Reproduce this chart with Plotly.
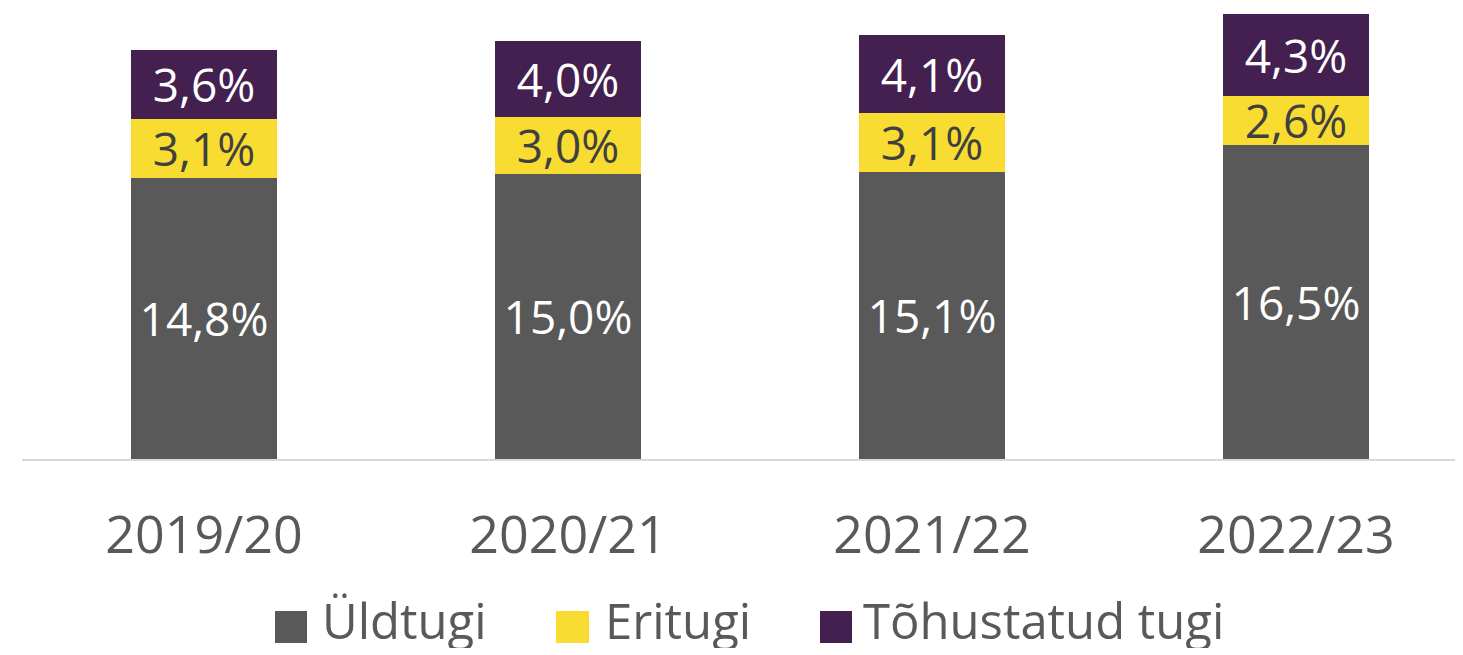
import plotly.graph_objects as go

categories = ["2019/20", "2020/21", "2021/22", "2022/23"]
uldtugi = [14.8, 15.0, 15.1, 16.5]
eritugi = [3.1, 3.0, 3.1, 2.6]
tohustatud = [3.6, 4.0, 4.1, 4.3]
series_names = ["Üldtugi", "Eritugi", "Tõhustatud tugi"]
colors = ["#595959", "#F9DC32", "#43204F"]
text_colors = ["#FFFFFF", "#404040", "#FFFFFF"]

def fmt(v):
    return f"{v:.1f}".replace(".", ",") + "%"

FONT = "Open Sans"
OFF = 8  # page body margin
W, H = 1463 - OFF, 655 - OFF
BASE_Y = 459  # baseline y in screen pixels
ML = 22 - OFF
MB = 655 - BASE_Y
PW, PH = W - ML, H - MB

fig = go.Figure()
for name, vals, c, tc in zip(series_names, [uldtugi, eritugi, tohustatud], colors, text_colors):
    fig.add_trace(go.Bar(
        x=categories, y=vals, name=name, marker=dict(color=c, line=dict(width=0)),
        text=[fmt(v) for v in vals], textposition="inside", insidetextanchor="middle",
        textangle=0, constraintext="none",
        textfont=dict(family=FONT, size=46, color=tc),
        width=0.4, showlegend=False,
    ))

# manual legend (screen pixel layout -> paper coords)
def px(x):
    return (x - OFF - ML) / PW

def py(y):
    return (BASE_Y - y) / PH

legend_items = [(275, 307, 320), (556, 589, 603), (820, 852, 861)]
for (sx0, sx1, tx), name, c in zip(legend_items, series_names, colors):
    fig.add_shape(type="rect", xref="paper", yref="paper",
                  x0=px(sx0), x1=px(sx1), y0=py(643), y1=py(611),
                  fillcolor=c, line=dict(width=0))
    fig.add_annotation(xref="paper", yref="paper", x=px(tx), y=py(620),
                       text=name, showarrow=False, xanchor="left", yanchor="middle",
                       height=56, valign="middle",
                       font=dict(family=FONT, size=49, color="#595959"))

fig.update_layout(
    barmode="stack",
    width=W, height=H,
    margin=dict(l=ML, r=0, t=0, b=MB, autoexpand=False),
    plot_bgcolor="white", paper_bgcolor="white",
    font=dict(family=FONT, color="#595959"),
    showlegend=False,
    xaxis=dict(range=[-0.5, -0.5 + PW / 364], showgrid=False, showline=True,
               linecolor="#D9D9D9", linewidth=2, ticks="", ticklabelstandoff=30,
               tickfont=dict(size=52, color="#595959"), zeroline=False),
    yaxis=dict(range=[0, (BASE_Y - OFF) / 19.02], visible=False),
)
fig.write_html("out.html")
